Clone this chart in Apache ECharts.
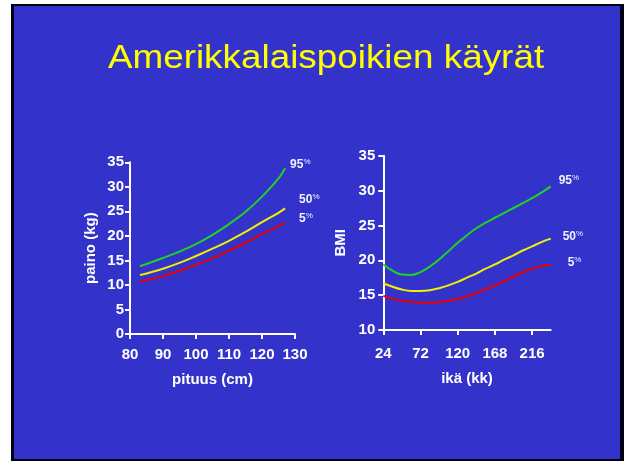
<!DOCTYPE html>
<html><head><meta charset="utf-8">
<script src="https://cdn.jsdelivr.net/npm/echarts@6/dist/echarts.min.js"></script>
<style>html,body{margin:0;padding:0;background:#fff}#c{width:626px;height:461px}</style>
</head><body><div id="c"></div>
<script>
const titleText = 'Amerikkalaispoikien käyrät';
// Left chart: weight vs height
const heightCm = [83, 90, 95, 100, 105, 110, 115, 120, 125, 127];
const weightP95 = [13.8, 15.5, 16.8, 18.3, 20.2, 22.4, 24.9, 28.0, 31.7, 33.8];
const weightP50 = [12.0, 13.3, 14.5, 15.9, 17.4, 19.0, 20.8, 22.8, 24.7, 25.6];
const weightP5  = [10.7, 11.8, 12.9, 14.1, 15.4, 17.0, 18.6, 20.4, 22.0, 22.7];
// Right chart: BMI vs age (months)
const ageMonths = [24, 36, 48, 60, 72, 84, 96, 108, 120, 132, 144, 156, 168, 180, 192, 204, 216, 228, 240];
const bmiP95 = [19.4, 18.5, 17.95, 17.9, 18.3, 19.1, 20.1, 21.3, 22.5, 23.6, 24.6, 25.4, 26.1, 26.8, 27.5, 28.2, 28.9, 29.7, 30.6];
const bmiP50 = [16.7, 16.2, 15.8, 15.6, 15.6, 15.7, 16.0, 16.4, 16.9, 17.5, 18.1, 18.8, 19.4, 20.1, 20.7, 21.4, 22.0, 22.6, 23.1];
const bmiP5  = [14.9, 14.5, 14.2, 14.05, 13.95, 13.9, 14.0, 14.2, 14.45, 14.8, 15.3, 15.85, 16.4, 17.0, 17.65, 18.25, 18.8, 19.2, 19.4];
const ageTicks = [24, 72, 120, 168, 216];
const pctLabels = ['95', '50', '5'];

const FONT = '"Liberation Sans", Arial, sans-serif';
const GREEN = '#1fd41f', YELLOW = '#f0f000', RED = '#ee0000';

function zip(xs, ys) { return xs.map((x, i) => [x, ys[i]]); }
const rich = {
  n: { fontSize: 12, color: '#f0f0ff', fontFamily: FONT, fontWeight: 'bold' },
  p: { fontSize: 8, color: '#f0f0ff', fontFamily: FONT, padding: [0, 0, 6, 0] }
};
function lineSeries(xi, yi, data, color, label, offset) {
  return {
    type: 'line', xAxisIndex: xi, yAxisIndex: yi, data: data,
    smooth: 0.4, showSymbol: false, symbol: 'none',
    lineStyle: { color: color, width: 2 },
    itemStyle: { color: color },
    endLabel: { show: true, formatter: '{n|' + label + '}{p|%}', rich: rich, distance: 5, offset: offset },
    silent: true
  };
}
const axisCommon = {
  axisLine: { show: true, lineStyle: { color: '#fff', width: 2 } },
  axisTick: { show: true, length: 5, lineStyle: { color: '#fff', width: 2 } },
  splitLine: { show: false },
  nameTextStyle: { color: '#fff', fontSize: 15, fontWeight: 'bold', fontFamily: FONT },
  nameLocation: 'middle'
};
const labelStyle = { color: '#fff', fontSize: 15, fontWeight: 'bold', fontFamily: FONT };

const chart = echarts.init(document.getElementById('c'), null, { renderer: 'canvas' });
chart.setOption({
  backgroundColor: '#fff',
  animation: false,
  graphic: [
    { type: 'rect', z: -10, shape: { x: 11, y: 4, width: 613, height: 457 }, style: { fill: '#000010' } },
    { type: 'rect', z: -9, shape: { x: 14, y: 6, width: 606, height: 453 }, style: { fill: '#3333cc' } },
    { type: 'text', z: 10, x: 326, y: 59, scaleX: 1.1, style: { text: titleText, fill: '#ffff00', fontSize: 33.5, fontFamily: FONT, align: 'center', verticalAlign: 'middle' } }
  ],
  grid: [
    { left: 130, top: 162.3, width: 165, height: 171.7 },
    { left: 383.3, top: 155.7, width: 167.4, height: 174.3 }
  ],
  xAxis: [
    Object.assign({}, axisCommon, { type: 'value', gridIndex: 0, min: 80, max: 130, interval: 10, name: 'pituus (cm)', nameGap: 38,
      axisLabel: Object.assign({ margin: 13 }, labelStyle) }),
    Object.assign({}, axisCommon, { type: 'value', gridIndex: 1, min: 24, max: 240, name: 'ikä (kk)', nameGap: 41,
      axisTick: { show: true, length: 5, lineStyle: { color: '#fff', width: 2 }, customValues: ageTicks },
      axisLabel: Object.assign({ margin: 16, customValues: ageTicks }, labelStyle) })
  ],
  yAxis: [
    Object.assign({}, axisCommon, { type: 'value', gridIndex: 0, min: 0, max: 35, interval: 5, name: 'paino (kg)', nameGap: 32,
      axisLabel: Object.assign({ margin: 6 }, labelStyle) }),
    Object.assign({}, axisCommon, { type: 'value', gridIndex: 1, min: 10, max: 35, interval: 5, name: 'BMI', nameGap: 35,
      axisLabel: Object.assign({ margin: 8 }, labelStyle) })
  ],
  series: [
    lineSeries(0, 0, zip(heightCm, weightP95), GREEN, pctLabels[0], [0, -3]),
    lineSeries(0, 0, zip(heightCm, weightP50), YELLOW, pctLabels[1], [9, -9]),
    lineSeries(0, 0, zip(heightCm, weightP5), RED, pctLabels[2], [9, -4]),
    lineSeries(1, 1, zip(ageMonths, bmiP95), GREEN, pctLabels[0], [3, -6]),
    lineSeries(1, 1, zip(ageMonths, bmiP50), YELLOW, pctLabels[1], [7, -2]),
    lineSeries(1, 1, zip(ageMonths, bmiP5), RED, pctLabels[2], [12, -2])
  ]
});
</script></body></html>
